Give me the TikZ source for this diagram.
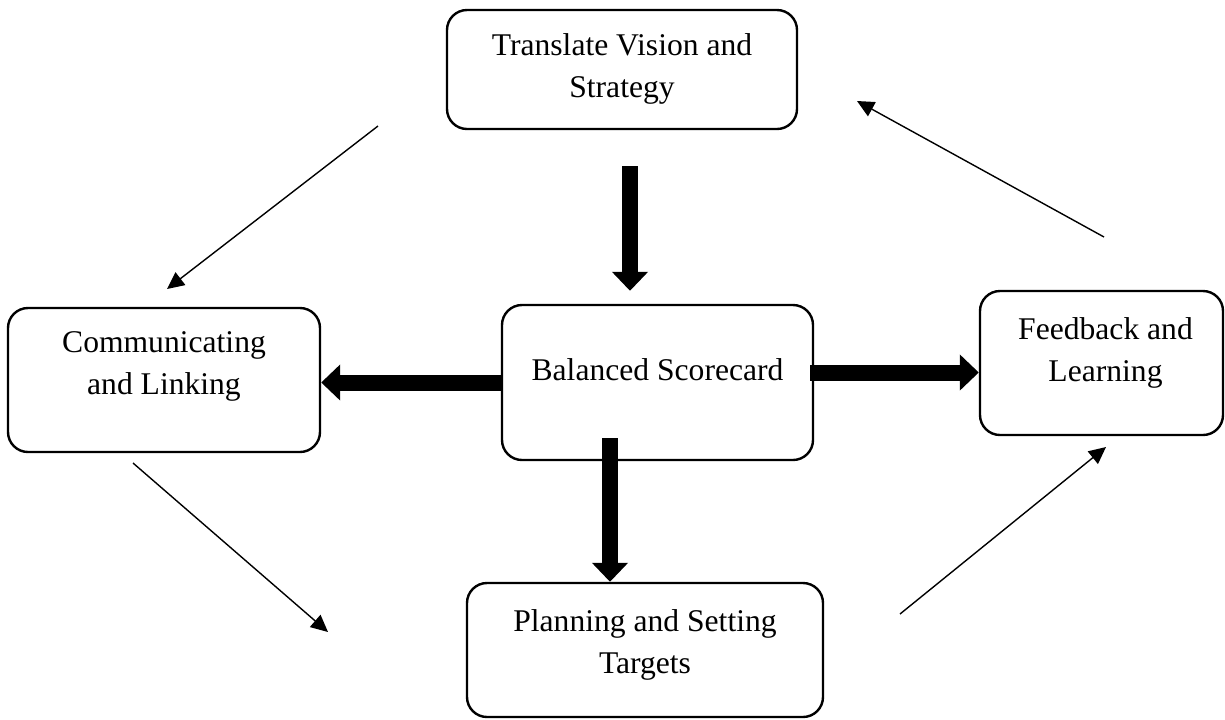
\documentclass[tikz,border=0pt]{standalone}
\usepackage{fontspec}
\setmainfont{Liberation Serif}
\usetikzlibrary{arrows.meta,positioning}

\tikzset{
  stage/.style={draw, line width=1.2pt, rounded corners=10pt},
  stagetext/.style={align=center, inner sep=0pt, font=\fontsize{15.8}{21}\selectfont},
  bigarrow/.style={-{Triangle[width=17.5pt,length=9.5pt]}, line width=8pt},
  thinarrow/.style={-{Triangle[width=8pt,length=8.5pt]}, line width=0.7pt}
}

\begin{document}
\begin{tikzpicture}[x=0.5pt, y=-0.5pt]
    \useasboundingbox (0,0) rectangle (1225,719);

    % Boxes
    \node[stage, minimum width=175pt, minimum height=59.5pt] (tv) at (622,69.5) {};
    \node[stage, minimum width=156pt, minimum height=72pt] (cl) at (164,380) {};
    \node[stage, minimum width=155.5pt, minimum height=77.5pt] (bs) at (657.5,382.5) {};
    \node[stage, minimum width=121.5pt, minimum height=72pt] (fl) at (1101.5,363) {};
    \node[stage, minimum width=178pt, minimum height=67pt] (ps) at (645,650) {};

    % Texts
    \node[stagetext, below=12pt of tv.north] (tvtext) {Translate Vision and\\Strategy};
    \node[stagetext, below=12pt of cl.north] (cltext) {Communicating\\and Linking};
    \node[stagetext, below=27pt of bs.north] (bstext) {Balanced Scorecard};
    \node[stagetext, below=13.5pt of fl.north, xshift=2pt] (fltext) {Feedback and\\Learning};
    \node[stagetext, below=13.5pt of ps.north] (pstext) {Planning and Setting\\Targets};

    % Thick arrows out of the centre
    \draw[bigarrow, shorten <=18pt, shorten >=6.5pt] ([xshift=4pt]tv.south) -- ([xshift=4pt]tv.south |- bs.north);
    \draw[bigarrow] (bs.west) -- (cl.east |- bs.west);
    \draw[bigarrow, shorten <=-2pt] ([yshift=5pt]bs.east) -- ([yshift=5pt]bs.east -| fl.west);
    \draw[bigarrow, shorten <=-11.5pt] ([xshift=-23.75pt]bs.south) -- ([xshift=-23.75pt]bs.south |- ps.north);

    % Thin arrows round the cycle
    \coordinate (tvout) at (378,126);
    \coordinate (clin) at (167,289);
    \coordinate (clout) at (133,463);
    \coordinate (psin) at (328,632);
    \coordinate (psout) at (900,614);
    \coordinate (flin) at (1106,447);
    \coordinate (flout) at (1104,237);
    \coordinate (tvin) at (857,101);
    \draw[thinarrow] (tvout) -- (clin);
    \draw[thinarrow] (clout) -- (psin);
    \draw[thinarrow] (psout) -- (flin);
    \draw[thinarrow] (flout) -- (tvin);

\end{tikzpicture}
\end{document}
